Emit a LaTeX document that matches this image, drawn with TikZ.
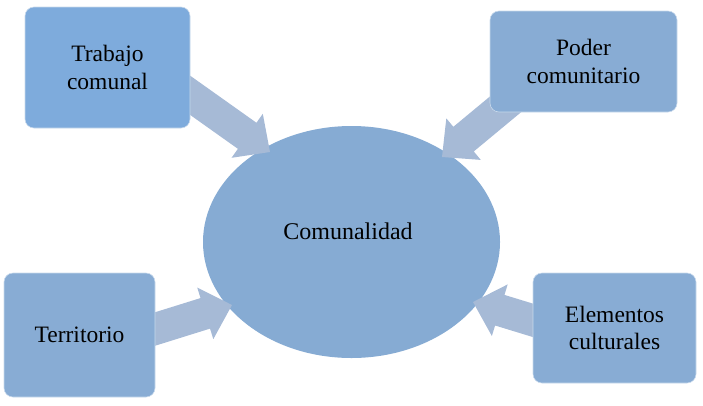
\documentclass[tikz,border=0pt]{standalone}
\usepackage{fontspec}
\setmainfont{Liberation Serif}
\usetikzlibrary{calc,shapes.geometric}
\definecolor{boxA}{RGB}{126,171,220}
\definecolor{boxB}{RGB}{136,172,212}
\definecolor{ellc}{RGB}{134,171,211}
\definecolor{arrc}{RGB}{166,186,214}
\newcommand{\blockarr}[2]{%
  \coordinate (bah) at ($(#2)!28pt!(#1)$);
  \fill[arrc] ($(#1)!16pt!90:(#2)$) -- ($(bah)!16pt!-90:(#1)$) -- ($(bah)!27pt!-90:(#1)$) -- (#2)
     -- ($(bah)!27pt!90:(#1)$) -- ($(bah)!16pt!90:(#1)$) -- ($(#1)!16pt!-90:(#2)$) -- cycle;}
\begin{document}
\begin{tikzpicture}[x=1pt,y=-1pt,
  box/.style={rounded corners=9pt, draw=white!55!boxB, line width=0.6pt, inner sep=0pt,
    align=center, font=\fontsize{23.5}{27.5}\selectfont, text=black},
  txt/.style={inner sep=0pt, font=\fontsize{24}{28}\selectfont, text=black}]
\useasboundingbox (0,0) rectangle (703,405);
% central ellipse
\node[fill=ellc, ellipse, inner sep=0pt, minimum width=297pt, minimum height=232pt] (c) at (351.5,242) {};
% arrow coordinates
\coordinate (t1) at (151,67.5);  \coordinate (p1) at (270,152);
\coordinate (t2) at (524,89);    \coordinate (p2) at (442,157);
\coordinate (t3) at (107,344);   \coordinate (p3) at (232,305);
\coordinate (t4) at (571,332);   \coordinate (p4) at (473,302);
\blockarr{t1}{p1}
\blockarr{t2}{p2}
\blockarr{t3}{p3}
\blockarr{t4}{p4}
% boxes
\node[box, fill=boxA, minimum width=165pt, minimum height=121pt] (tc) at (107.5,67.5) {Trabajo\\comunal};
\node[box, fill=boxB, minimum width=187pt, minimum height=101pt] (pc) at (583.5,61.5) {Poder\\comunitario};
\node[box, fill=boxB, minimum width=151pt, minimum height=124pt] (te) at (79.5,335) {Territorio};
\node[box, fill=boxB, minimum width=163pt, minimum height=110pt] (ec) at (614.5,328) {Elementos\\culturales};
\node[txt] (ct) at (348,231) {Comunalidad};
\end{tikzpicture}
\end{document}
